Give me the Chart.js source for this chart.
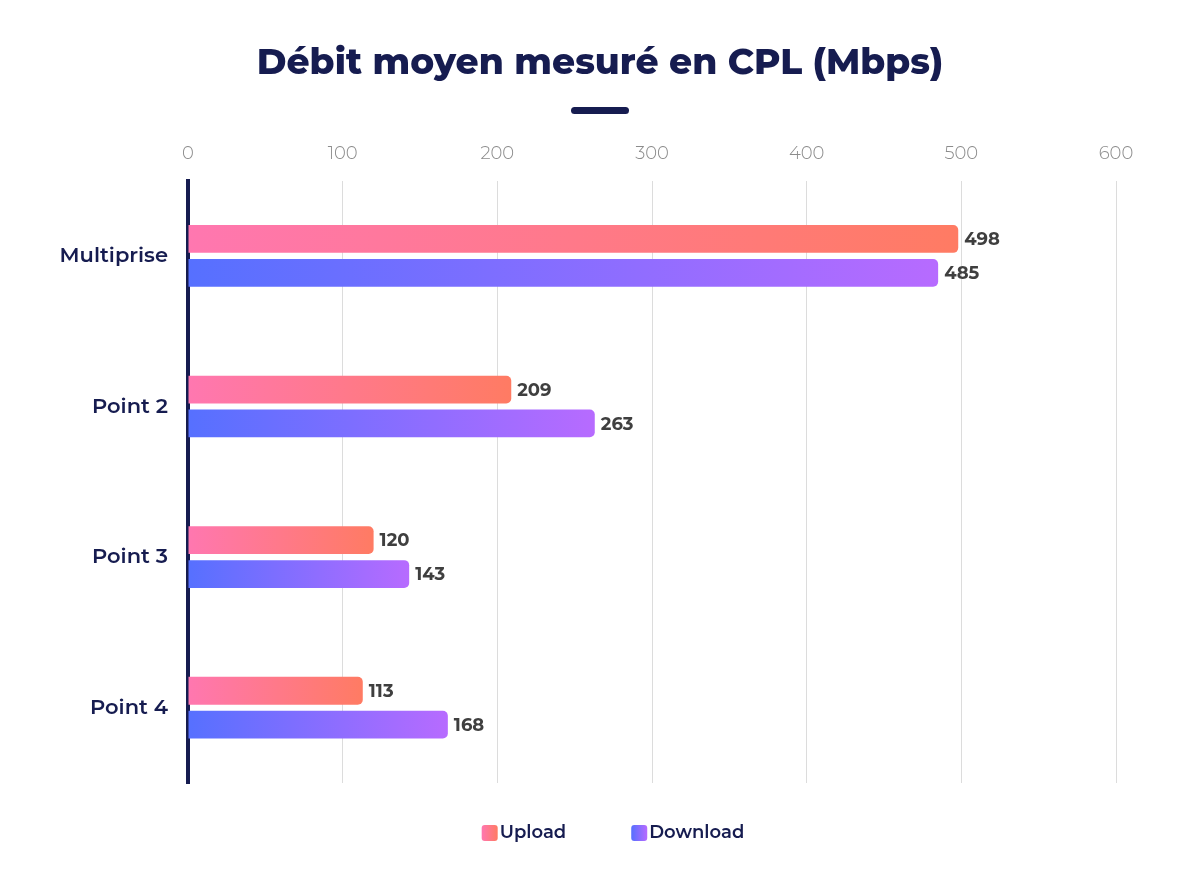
<!DOCTYPE html>
<html>
<head>
<meta charset="utf-8">
<script src="https://cdn.jsdelivr.net/npm/chart.js@4"></script>
<style>
  html, body { margin: 0; padding: 0; background: #fff; }
  #wrap { width: 1200px; height: 875px; }
</style>
</head>
<body>
<div id="wrap"><canvas id="cplChart" width="1200" height="875"></canvas></div>
<script>
const categories = ["Multiprise", "Point 2", "Point 3", "Point 4"];
const uploadValues = [498, 209, 120, 113];
const downloadValues = [485, 263, 143, 168];
const seriesNames = ["Upload", "Download"];
const chartTitle = "Débit moyen mesuré en CPL (Mbps)";
const xMax = 600;
const xStep = 100;

const NAVY = "#161c50";
const FONT = "Montserrat, Inter, 'Open Sans', sans-serif";
const uploadColors = ["#ff77b0", "#ff7b63"];
const downloadColors = ["#5670ff", "#b76bff"];

// horizontal gradient running along each bar
function barGradient(colors) {
  return function (ctx) {
    const chart = ctx.chart;
    if (!chart.chartArea || ctx.raw === undefined) return colors[0];
    const x = chart.scales.x;
    const x0 = x.getPixelForValue(0);
    const x1 = x.getPixelForValue(ctx.raw);
    if (x1 - x0 < 1) return colors[0];
    const g = chart.ctx.createLinearGradient(x0, 0, x1, 0);
    g.addColorStop(0, colors[0]);
    g.addColorStop(1, colors[1]);
    return g;
  };
}

const valueLabels = {
  id: "valueLabels",
  afterDatasetsDraw(chart) {
    const ctx = chart.ctx;
    ctx.save();
    ctx.font = "700 18px " + FONT;
    ctx.fillStyle = "#3f3f3f";
    ctx.textAlign = "left";
    ctx.textBaseline = "middle";
    chart.data.datasets.forEach((ds, i) => {
      chart.getDatasetMeta(i).data.forEach((bar, j) => {
        ctx.fillText(ds.data[j], bar.x + 6, bar.y + 1);
      });
    });
    ctx.restore();
  }
};

// title centred on the page plus the short bar under it
const pageTitle = {
  id: "pageTitle",
  afterDraw(chart) {
    const ctx = chart.ctx;
    const cx = chart.width / 2;
    ctx.save();
    ctx.fillStyle = NAVY;
    ctx.font = "800 36px " + FONT;
    ctx.textAlign = "center";
    ctx.textBaseline = "middle";
    ctx.fillText(chartTitle, cx, 63);
    ctx.beginPath();
    ctx.roundRect(cx - 29, 107, 58, 7, 3.5);
    ctx.fill();
    ctx.restore();
  }
};

const gradLegend = {
  id: "gradLegend",
  afterDraw(chart) {
    const ctx = chart.ctx;
    const y = 833;
    const box = 16, gap = 2, itemGap = 65;
    ctx.save();
    ctx.font = "600 18px " + FONT;
    const widths = seriesNames.map(n => ctx.measureText(n).width);
    const total = widths.reduce((a, w) => a + box + gap + w, 0) + itemGap * (seriesNames.length - 1);
    let x = chart.width / 2 + 13 - total / 2;
    const colorSets = [uploadColors, downloadColors];
    seriesNames.forEach((name, i) => {
      const g = ctx.createLinearGradient(x, 0, x + box, 0);
      g.addColorStop(0, colorSets[i][0]);
      g.addColorStop(1, colorSets[i][1]);
      ctx.fillStyle = g;
      ctx.beginPath();
      ctx.roundRect(x, y - box / 2, box, box, 3);
      ctx.fill();
      ctx.fillStyle = NAVY;
      ctx.textBaseline = "middle";
      ctx.textAlign = "left";
      ctx.fillText(name, x + box + gap, y);
      x += box + gap + widths[i] + itemGap;
    });
    ctx.restore();
  }
};

new Chart(document.getElementById("cplChart").getContext("2d"), {
  type: "bar",
  data: {
    labels: categories,
    datasets: [
      {
        label: seriesNames[0],
        data: uploadValues,
        backgroundColor: barGradient(uploadColors),
        borderRadius: { topRight: 5, bottomRight: 5 },
        borderSkipped: false,
        categoryPercentage: 0.45,
        barPercentage: 0.82
      },
      {
        label: seriesNames[1],
        data: downloadValues,
        backgroundColor: barGradient(downloadColors),
        borderRadius: { topRight: 5, bottomRight: 5 },
        borderSkipped: false,
        categoryPercentage: 0.45,
        barPercentage: 0.82
      }
    ]
  },
  options: {
    indexAxis: "y",
    responsive: false,
    animation: false,
    layout: { padding: { left: 0, right: 84, top: 127, bottom: 92 } },
    plugins: {
      legend: { display: false },
      tooltip: { enabled: false },
      title: { display: false }
    },
    scales: {
      x: {
        position: "top",
        min: 0,
        max: xMax,
        ticks: {
          stepSize: xStep,
          color: "#8c8c8c",
          font: { family: FONT, size: 18, weight: "300" },
          padding: 16
        },
        grid: { color: "#dcdcdc", lineWidth: 1, drawTicks: false },
        border: { display: false }
      },
      y: {
        afterFit(scale) { scale.width = 188; },
        ticks: {
          color: NAVY,
          font: { family: FONT, size: 21, weight: "600" },
          padding: 20
        },
        grid: { display: false, drawTicks: false },
        border: { display: true, color: NAVY, width: 4 }
      }
    }
  },
  plugins: [valueLabels, pageTitle, gradLegend]
});
</script>
</body>
</html>
